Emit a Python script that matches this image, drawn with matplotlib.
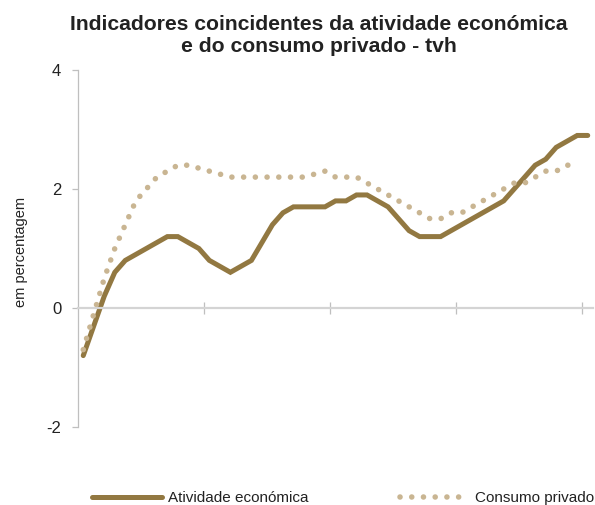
import numpy as np
import matplotlib
matplotlib.use("Agg")
import matplotlib.pyplot as plt

plt.rcParams['font.family'] = ['Liberation Sans', 'DejaVu Sans']

# Dados (tvh, em percentagem) - meses
atividade = [-0.8, -0.3, 0.2, 0.6, 0.8, 0.9, 1.0, 1.1, 1.2, 1.2,
             1.1, 1.0, 0.8, 0.7, 0.6, 0.7, 0.8, 1.1, 1.4, 1.6,
             1.7, 1.7, 1.7, 1.7, 1.8, 1.8, 1.9, 1.9, 1.8, 1.7,
             1.5, 1.3, 1.2, 1.2, 1.2, 1.3, 1.4, 1.5, 1.6, 1.7,
             1.8, 2.0, 2.2, 2.4, 2.5, 2.7, 2.8, 2.9, 2.9]
consumo = [-0.7, -0.1, 0.5, 1.0, 1.4, 1.8, 2.0, 2.2, 2.3, 2.4,
           2.4, 2.35, 2.3, 2.25, 2.2, 2.2, 2.2, 2.2, 2.2, 2.2,
           2.2, 2.2, 2.25, 2.3, 2.2, 2.2, 2.2, 2.1, 2.0, 1.9,
           1.8, 1.7, 1.6, 1.5, 1.5, 1.6, 1.6, 1.7, 1.8, 1.9,
           2.0, 2.1, 2.1, 2.2, 2.3, 2.3, 2.4, 2.4]
y_ticks = [-2, 0, 2, 4]

cor_atividade = '#927841'
cor_consumo = '#C9B592'
cor_eixo = '#BFBFBF'

fig = plt.figure(figsize=(5.95, 5.05), dpi=100)
ax = fig.add_axes([78/595, 78/505, 515/595, 357/505])

x_ativ = np.arange(len(atividade))
x_cons = np.arange(len(consumo))

ax.plot(x_ativ, atividade, color=cor_atividade, linewidth=3.6,
        solid_capstyle='round', solid_joinstyle='miter', label='Atividade económica')
ax.plot(x_cons, consumo, color=cor_consumo, linewidth=4.0,
        linestyle=(0, (0.01, 2.1)), dash_capstyle='round', label='Consumo privado')

ax.set_xlim(-0.5, len(atividade) - 0.5)
ax.set_ylim(-2, 4)

# Eixo horizontal no zero, marcas entre anos
ax.spines['bottom'].set_position(('data', 0))
ax.spines['bottom'].set_color('#D4D4D4')
ax.spines['bottom'].set_linewidth(1.6)
ax.spines['left'].set_color(cor_eixo)
ax.spines['left'].set_linewidth(0.9)
ax.spines['top'].set_visible(False)
ax.spines['right'].set_visible(False)

ax.set_xticks([11.5, 23.5, 35.5, 47.5])
ax.set_xticklabels([])
ax.tick_params(axis='x', direction='inout', length=8, width=0.9, color=cor_eixo)

ax.set_yticks(y_ticks)
ax.set_yticklabels([str(v) for v in y_ticks], fontsize=12, color='#222222')
ax.tick_params(axis='y', direction='out', length=4, width=0.9, color=cor_eixo, pad=8)

ax.set_ylabel('em percentagem', fontsize=10.5, color='#222222')
ax.yaxis.set_label_coords(-0.098, 0.49)

fig.text(0.536, 0.930, 'Indicadores coincidentes da atividade económica\ne do consumo privado - tvh',
         ha='center', va='center', fontsize=15.2, fontweight='bold', color='#222222',
         linespacing=1.2)

fig.legend(loc='center left', bbox_to_anchor=(92/595, 7/505), ncol=2, frameon=False,
           fontsize=11, handlelength=4.6, handletextpad=0.35, columnspacing=6.0,
           borderpad=0, borderaxespad=0, labelcolor='#222222')

fig.savefig('out.png', dpi=100)
